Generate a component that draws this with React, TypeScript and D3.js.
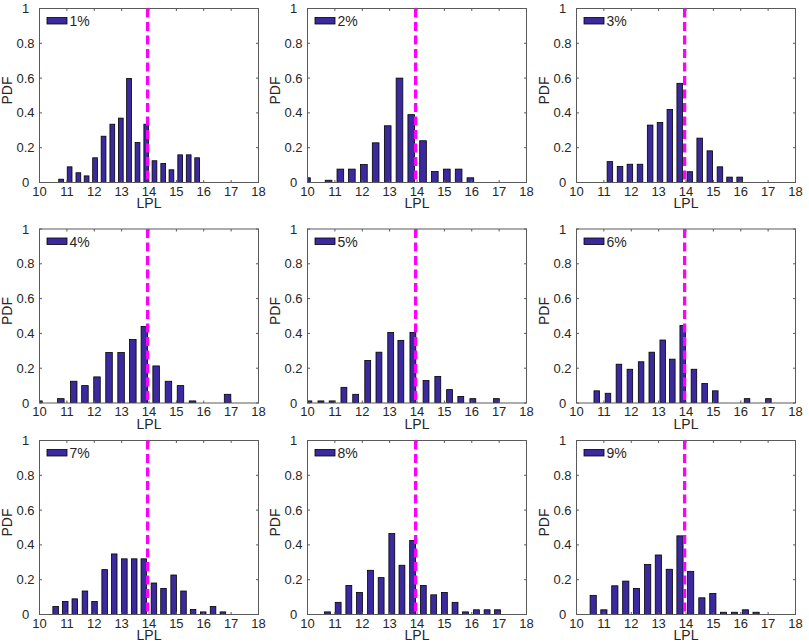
import React from "react";
import * as d3 from "d3";

// bin centres (LPL) and PDF heights for each panel
const lpl1 = [10.79, 11.1, 11.42, 11.72, 12.03, 12.34, 12.66, 12.97, 13.27, 13.58, 13.9, 14.2, 14.52, 14.82, 15.14, 15.45, 15.76];
const pdf1 = [0.019, 0.09, 0.056, 0.038, 0.142, 0.266, 0.335, 0.37, 0.598, 0.23, 0.335, 0.125, 0.109, 0.073, 0.159, 0.159, 0.142];

const lpl2 = [9.98, 10.77, 11.2, 11.62, 12.06, 12.49, 12.93, 13.36, 13.79, 14.22, 14.65, 15.09, 15.52, 15.95];
const pdf2 = [0.027, 0.013, 0.077, 0.077, 0.103, 0.228, 0.326, 0.6, 0.39, 0.24, 0.063, 0.077, 0.077, 0.027];

const lpl3 = [11.22, 11.59, 11.95, 12.32, 12.69, 13.05, 13.41, 13.77, 14.14, 14.5, 14.87, 15.24, 15.59, 15.96];
const pdf3 = [0.12, 0.092, 0.105, 0.105, 0.33, 0.345, 0.42, 0.57, 0.062, 0.255, 0.182, 0.09, 0.031, 0.031];

const lpl4 = [9.98, 10.78, 11.25, 11.66, 12.1, 12.54, 12.98, 13.41, 13.83, 14.26, 14.71, 15.15, 15.59, 16.87];
const pdf4 = [0.012, 0.025, 0.125, 0.1, 0.15, 0.29, 0.29, 0.365, 0.44, 0.213, 0.125, 0.1, 0.012, 0.05];

const lpl5 = [10.05, 10.49, 10.9, 11.33, 11.76, 12.2, 12.61, 13.04, 13.41, 13.85, 14.33, 14.76, 15.19, 15.6, 16.04, 16.9];
const pdf5 = [0.012, 0.012, 0.012, 0.09, 0.05, 0.244, 0.292, 0.405, 0.36, 0.405, 0.129, 0.153, 0.077, 0.038, 0.025, 0.025];

const lpl6 = [10.74, 11.15, 11.55, 11.95, 12.36, 12.75, 13.15, 13.5, 13.88, 14.29, 14.68, 15.07, 16.23, 17.01];
const pdf6 = [0.07, 0.056, 0.223, 0.194, 0.237, 0.292, 0.362, 0.252, 0.446, 0.194, 0.112, 0.07, 0.025, 0.025];

const lpl7 = [10.59, 10.94, 11.29, 11.66, 12.01, 12.38, 12.73, 13.1, 13.46, 13.81, 14.18, 14.53, 14.9, 15.26, 15.61, 15.98, 16.34, 16.7];
const pdf7 = [0.046, 0.075, 0.09, 0.135, 0.075, 0.258, 0.348, 0.32, 0.32, 0.32, 0.181, 0.15, 0.227, 0.135, 0.029, 0.015, 0.046, 0.015];

const lpl8 = [10.73, 11.12, 11.51, 11.9, 12.3, 12.69, 13.08, 13.45, 13.84, 14.23, 14.61, 15.0, 15.39, 15.77, 16.17, 16.56, 16.94];
const pdf8 = [0.015, 0.07, 0.167, 0.127, 0.254, 0.212, 0.465, 0.283, 0.425, 0.167, 0.113, 0.127, 0.07, 0.015, 0.027, 0.027, 0.027];

const lpl9 = [10.61, 11.0, 11.4, 11.8, 12.19, 12.6, 12.99, 13.39, 13.78, 14.17, 14.58, 14.98, 15.37, 15.77, 16.17, 16.56];
const pdf9 = [0.11, 0.027, 0.165, 0.192, 0.15, 0.287, 0.342, 0.26, 0.452, 0.248, 0.096, 0.121, 0.013, 0.013, 0.027, 0.013];

const labels = ["1%", "2%", "3%", "4%", "5%", "6%", "7%", "8%", "9%"];
const xTicks = [10, 11, 12, 13, 14, 15, 16, 17, 18];
const yTicks = [0, 0.2, 0.4, 0.6, 0.8, 1];
const threshold = 13.95;

const lplSets = [lpl1, lpl2, lpl3, lpl4, lpl5, lpl6, lpl7, lpl8, lpl9];
const pdfSets = [pdf1, pdf2, pdf3, pdf4, pdf5, pdf6, pdf7, pdf8, pdf9];

const colLeft = [39.5, 307.5, 576.5];
const rowTop = [8.5, 229, 440.5];
const W = 219;
const H = 174;

const FONT = "'Liberation Sans', Arial, Helvetica, sans-serif";
const BAR = "#3b2a9e";
const AXIS = "#5a5a5a";
const TEXT = "#262626";

function Panel({ idx }: { idx: number }) {
  const lpl = lplSets[idx];
  const pdf = pdfSets[idx];
  const left = colLeft[idx % 3];
  const top = rowTop[Math.floor(idx / 3)];

  const x = d3.scaleLinear().domain([10, 18]).range([0, W]);
  const y = d3.scaleLinear().domain([0, 1]).range([H, 0]);

  const step = d3.min(d3.pairs(lpl), ([a, b]) => b - a) || 0.4;
  const bw = (x(10 + step) - x(10)) * 0.58;
  const tick = 2.5;

  return (
    <g transform={`translate(${left},${top})`}>
      <clipPath id={`clip${idx}`}>
        <rect x={0} y={0} width={W} height={H} />
      </clipPath>
      <rect x={0} y={0} width={W} height={H} fill="#fff" />
      <g clipPath={`url(#clip${idx})`}>
        {lpl.map((c, i) => (
          <rect
            key={i}
            x={x(c) - bw / 2}
            y={y(pdf[i])}
            width={bw}
            height={y(0) - y(pdf[i])}
            fill={BAR}
            stroke="#000"
            strokeWidth={0.8}
          />
        ))}
      </g>
      <rect x={0} y={0} width={W} height={H} fill="none" stroke={AXIS} strokeWidth={1} />
      {xTicks.map((t) => (
        <g key={`x${t}`}>
          <line x1={x(t)} x2={x(t)} y1={H} y2={H - tick} stroke={AXIS} />
          <line x1={x(t)} x2={x(t)} y1={0} y2={tick} stroke={AXIS} />
          <text x={x(t)} y={H + 13} textAnchor="middle" fontSize={13} fill={TEXT} fontFamily={FONT}>
            {t}
          </text>
        </g>
      ))}
      {yTicks.map((t) => (
        <g key={`y${t}`}>
          <line x1={0} x2={tick} y1={y(t)} y2={y(t)} stroke={AXIS} />
          <line x1={W} x2={W - tick} y1={y(t)} y2={y(t)} stroke={AXIS} />
          <text x={-14} y={y(t) + 4.5} textAnchor="middle" fontSize={13} fill={TEXT} fontFamily={FONT}>
            {d3.format("~g")(t)}
          </text>
        </g>
      ))}
      <line
        x1={x(threshold)}
        x2={x(threshold)}
        y1={y(1)}
        y2={y(0)}
        stroke="#ff00ff"
        strokeWidth={3.3}
        strokeDasharray="9 4.5"
      />
      {/* legend */}
      <rect x={7.5} y={9} width={20} height={6.5} fill={BAR} stroke="#000" strokeWidth={0.8} />
      <text x={30} y={17.5} fontSize={14} fill={TEXT} fontFamily={FONT}>
        {labels[idx]}
      </text>
      <text x={W / 2} y={H + 25.5} textAnchor="middle" fontSize={14} fill={TEXT} fontFamily={FONT}>
        LPL
      </text>
      <text
        transform={`translate(${-28},${H / 2 - 5}) rotate(-90)`}
        textAnchor="middle"
        fontSize={14}
        fill={TEXT}
        fontFamily={FONT}
      >
        PDF
      </text>
    </g>
  );
}

export default function App() {
  return (
    <div style={{ position: "absolute", left: 0, top: 0 }}>
      <svg width={809} height={643} style={{ display: "block", background: "#fff" }}>
        {labels.map((_, i) => (
          <Panel key={i} idx={i} />
        ))}
      </svg>
    </div>
  );
}
